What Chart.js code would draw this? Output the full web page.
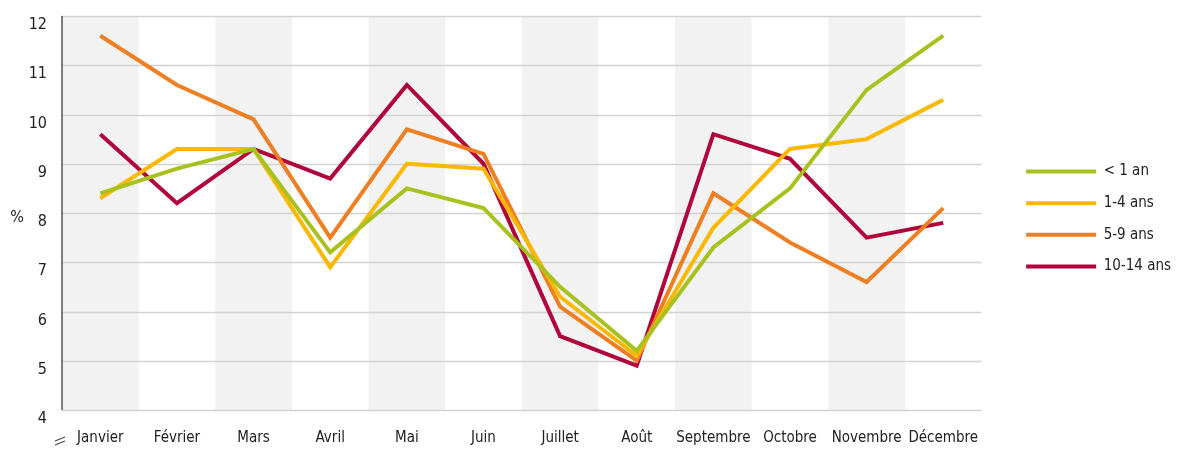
<!DOCTYPE html>
<html>
<head>
<meta charset="utf-8">
<script src="https://cdn.jsdelivr.net/npm/chart.js@4/dist/chart.umd.min.js"></script>
<style>
  body { margin: 0; background: #fff; }
  #wrap { width: 1181px; height: 450px; position: relative; }
</style>
</head>
<body>
<div id="wrap"><canvas id="grafico"></canvas></div>
<script>
const mois = ["Janvier", "Février", "Mars", "Avril", "Mai", "Juin", "Juillet", "Août", "Septembre", "Octobre", "Novembre", "Décembre"];
const moinsUnAn = [8.4, 8.9, 9.3, 7.2, 8.5, 8.1, 6.5, 5.2, 7.3, 8.5, 10.5, 11.6];
const unQuatreAns = [8.3, 9.3, 9.3, 6.9, 9.0, 8.9, 6.3, 5.1, 7.7, 9.3, 9.5, 10.3];
const cinqNeufAns = [11.6, 10.6, 9.9, 7.5, 9.7, 9.2, 6.1, 5.0, 8.4, 7.4, 6.6, 8.1];
const dixQuatorzeAns = [9.6, 8.2, 9.3, 8.7, 10.6, 9.0, 5.5, 4.9, 9.6, 9.1, 7.5, 7.8];
const yTicks = [4, 5, 6, 7, 8, 9, 10, 11, 12];

const police = "'DejaVu Sans Condensed', 'Liberation Sans Narrow', sans-serif";

// bandes grises un mois sur deux + grille + axe
const fond = {
  id: "fond",
  afterLayout(chart) {
    // remonter un peu la légende
    if (chart.legend) {
      chart.legend.bottom -= 12;
      chart.legend.height -= 12;
    }
  },
  beforeDatasetsDraw(chart) {
    const { ctx, chartArea, scales } = chart;
    const x = scales.x;
    const demi = (x.getPixelForValue(1) - x.getPixelForValue(0)) / 2;
    ctx.save();
    ctx.fillStyle = "#f2f2f2";
    mois.forEach((m, i) => {
      if (i % 2 === 0) {
        const c = x.getPixelForValue(i);
        ctx.fillRect(c - demi, chartArea.top, demi * 2, chartArea.bottom - chartArea.top);
      }
    });
    ctx.strokeStyle = "#d2d2d2";
    ctx.lineWidth = 1.5;
    yTicks.forEach((v) => {
      const y = Math.round(scales.y.getPixelForValue(v)) + 0.5;
      ctx.beginPath();
      ctx.moveTo(chartArea.left, y);
      ctx.lineTo(chartArea.right, y);
      ctx.stroke();
    });
    ctx.strokeStyle = "#555";
    ctx.beginPath();
    ctx.moveTo(chartArea.left, chartArea.top);
    ctx.lineTo(chartArea.left, chartArea.bottom);
    ctx.stroke();
    ctx.restore();
  },
  afterDraw(chart) {
    const { ctx, chartArea } = chart;
    ctx.save();
    ctx.fillStyle = "#222";
    ctx.font = "16px " + police;
    ctx.textAlign = "center";
    ctx.textBaseline = "middle";
    ctx.fillText("%", 17, (chartArea.top + chartArea.bottom) / 2 + 5);
    // coupure d'axe
    ctx.strokeStyle = "#444";
    ctx.lineWidth = 1.2;
    const bx = chartArea.left - 2;
    const by = chartArea.bottom + 29;
    ctx.beginPath();
    ctx.moveTo(bx - 5, by + 2);
    ctx.lineTo(bx + 5, by - 2);
    ctx.moveTo(bx - 5, by + 6);
    ctx.lineTo(bx + 5, by + 2);
    ctx.stroke();
    ctx.restore();
  },
};

const serie = (label, data, color) => ({
  label,
  data,
  borderColor: color,
  backgroundColor: color,
  borderWidth: 4,
  pointRadius: 0,
  tension: 0,
  yAxisID: "y",
});

new Chart(document.getElementById("grafico"), {
  type: "line",
  data: {
    labels: mois,
    datasets: [
      serie("< 1 an", moinsUnAn, "#a9c11f"),
      serie("1-4 ans", unQuatreAns, "#fbb800"),
      serie("5-9 ans", cinqNeufAns, "#ee7f23"),
      serie("10-14 ans", dixQuatorzeAns, "#b0053b"),
    ],
  },
  options: {
    responsive: true,
    maintainAspectRatio: false,
    animation: false,
    layout: { padding: { top: 0, left: 0, right: 0, bottom: 0 } },
    plugins: {
      tooltip: { enabled: false },
      legend: {
        position: "right",
        align: "center",
        labels: {
          boxWidth: 70,
          boxHeight: 0,
          padding: 16.6,
          color: "#222",
          font: { family: police, size: 15 },
        },
      },
    },
    scales: {
      x: {
        offset: true,
        grid: { display: false, drawTicks: false },
        border: { display: false },
        afterFit(s) { s.height = 40; },
        ticks: {
          color: "#222",
          font: { family: police, size: 15 },
          padding: 19,
          maxRotation: 0,
          autoSkip: false,
        },
      },
      y: {
        min: 4,
        max: 12,
        grid: { display: false, drawTicks: false },
        border: { display: false },
        afterFit(s) {
          s.width = 62;
          s.paddingTop = 16;
          s.paddingBottom = 0;
        },
        ticks: {
          stepSize: 1,
          color: "#222",
          font: { family: police, size: 16 },
          padding: 15,
          labelOffset: 9,
        },
      },
      y2: {
        position: "right",
        grid: { display: false, drawTicks: false },
        border: { display: false },
        ticks: { display: false },
        afterFit(s) { s.width = 28; },
      },
    },
  },
  plugins: [fond],
});
</script>
</body>
</html>
